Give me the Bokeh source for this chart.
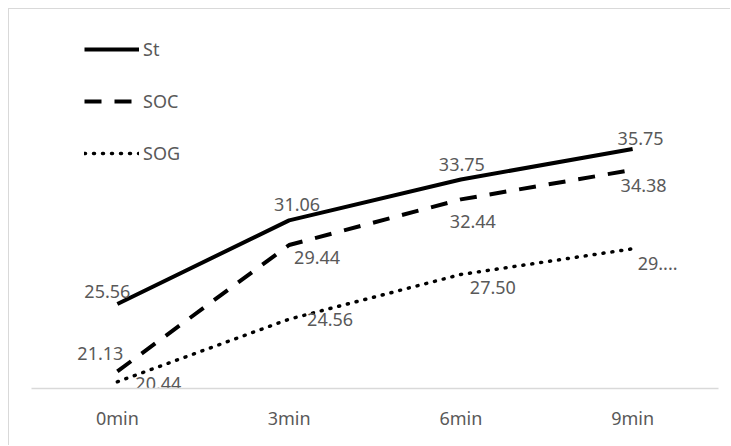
from bokeh.plotting import figure
from bokeh.models import ColumnDataSource, Legend, LegendItem
from bokeh.core.properties import value
from bokeh.embed import file_html
from bokeh.resources import INLINE

categories = ["0min", "3min", "6min", "9min"]
series_names = ["St", "SOC", "SOG"]
st_values = [25.56, 31.06, 33.75, 35.75]
soc_values = [21.13, 29.44, 32.44, 34.38]
sog_values = [20.44, 24.56, 27.50, 29.19]
st_labels = ["25.56", "31.06", "33.75", "35.75"]
soc_labels = ["21.13", "29.44", "32.44", "34.38"]
sog_labels = ["20.44", "24.56", "27.50", "29...."]

# label placement offsets (pixels, y down)
st_dx = [-10, 8, 1, 8]
st_dy = [-12, -16, -15, -11]
soc_dx = [-17, 28, 12, 11]
soc_dy = [-18, 13, 22, 16]
sog_dx = [41, 41, 32, 25]
sog_dy = [2, 0, 13, 15]

FONT = "Noto Sans"
TXT = "#595959"
GRID = "#d9d9d9"

p = figure(x_range=categories, y_range=(20, 44.93), width=722, height=437,
           output_backend="svg", toolbar_location=None,
           min_border_left=22, min_border_right=13, min_border_top=0,
           min_border_bottom=58)
p.styles = {"border-left": "1px solid #d9d9d9", "border-top": "1px solid #d9d9d9",
            "margin-left": "8px", "margin-top": "8px"}
p.outline_line_color = None
p.xgrid.visible = False
p.ygrid.visible = False
p.yaxis.visible = False
p.xaxis.axis_line_color = GRID
p.xaxis.axis_line_width = 1.5
p.xaxis.major_tick_line_color = None
p.xaxis.minor_tick_line_color = None
p.xaxis.major_label_text_font = FONT
p.xaxis.major_label_text_font_size = "18px"
p.xaxis.major_label_text_color = TXT
p.xaxis.major_label_standoff = 11

styles = [
    dict(line_dash="solid", line_width=4, line_cap="butt"),
    dict(line_dash="17 13", line_width=4, line_cap="butt"),
    dict(line_dash="1 8", line_width=3.5, line_cap="round"),
]
all_vals = [st_values, soc_values, sog_values]
all_labels = [st_labels, soc_labels, sog_labels]
all_dx = [st_dx, soc_dx, sog_dx]
all_dy = [st_dy, soc_dy, sog_dy]

items = []
for name, vals, labs, dx, dy, st in zip(series_names, all_vals, all_labels, all_dx, all_dy, styles):
    src = ColumnDataSource(dict(x=categories, y=vals, lab=labs, dx=dx, dy=dy))
    r = p.line("x", "y", source=src, line_color="black", line_join="round", **st)
    items.append(LegendItem(label=name, renderers=[r]))
    p.text("x", "y", text="lab", source=src, x_offset="dx", y_offset="dy",
           text_align="center", text_baseline="middle", text_font=value(FONT),
           text_font_size="18px", text_color=TXT)

legend = Legend(items=items, location=(53, 223), orientation="vertical",
                glyph_width=55, glyph_height=20, label_height=20, spacing=28,
                padding=0, margin=0, label_standoff=4,
                label_text_font=FONT, label_text_font_size="18px",
                label_text_color=TXT, border_line_color=None,
                background_fill_alpha=0)
p.add_layout(legend, "center")

open("out.html", "w").write(file_html(p, INLINE))
